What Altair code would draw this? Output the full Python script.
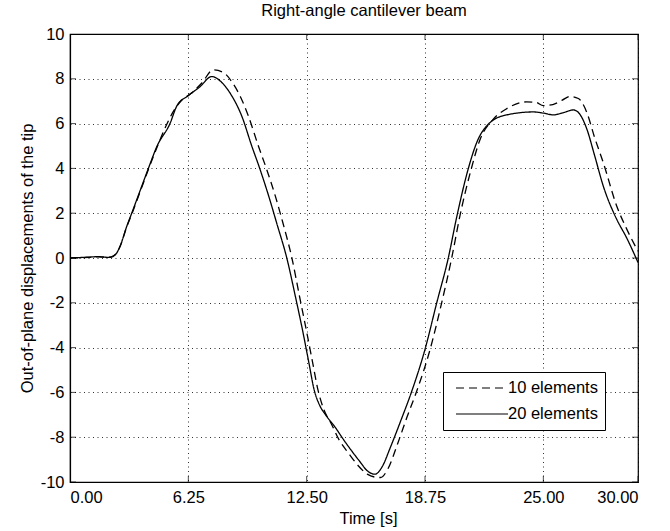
import altair as alt
import pandas as pd

# 10 elements (dashed)
t10 = [0.0, 1.0, 1.5, 2.0, 2.3, 2.64, 3.0, 3.26, 3.7, 4.14, 4.6, 5.1, 5.5, 5.85, 6.4, 6.95, 7.57, 8.1,
       8.6, 9.0, 9.42, 9.95, 10.39, 10.85, 11.25, 11.72, 12.12, 12.5, 12.8, 13.1, 13.4, 13.8, 14.2, 14.7,
       15.2, 15.7, 16.1, 16.4, 16.8, 17.3, 17.8, 18.31, 19.02, 19.63, 20.16, 20.6, 21.2, 21.64, 22.36,
       23.07, 24.12, 24.6, 25.0, 25.5, 26.0, 26.41, 26.85, 27.3, 27.7, 28.17, 28.88, 29.4, 30.0]
y10 = [0.0, 0.03, 0.05, 0.03, 0.1, 0.5, 1.4, 1.95, 2.95, 3.95, 4.95, 5.95, 6.6, 7.0, 7.35, 7.8, 8.4, 8.28,
       7.8, 7.2, 6.34, 5.0, 3.95, 2.75, 1.55, 0.0, -1.7, -3.3, -4.6, -5.9, -6.75, -7.4, -8.1, -8.7,
       -9.25, -9.65, -9.78, -9.8, -9.4, -8.3, -7.1, -5.95, -4.08, -2.0, 0.0, 1.9, 4.0, 5.25, 6.2,
       6.67, 6.97, 6.95, 6.8, 6.85, 7.05, 7.21, 7.12, 6.49, 5.4, 4.25, 2.31, 1.3, 0.3]

# 20 elements (solid)
t20 = [0.0, 1.0, 1.5, 2.0, 2.11, 2.4, 2.64, 3.0, 3.26, 3.7, 4.14, 4.6, 5.28, 5.65, 6.25, 6.87, 7.48,
       8.0, 8.5, 9.07, 9.6, 10.04, 10.5, 10.92, 11.45, 11.9, 12.3, 12.6, 12.9, 13.2, 13.5, 14.0,
       14.44, 15.0, 15.32, 15.7, 16.11, 16.5, 16.9, 17.5, 18.05, 18.75, 19.37, 19.98, 20.43, 21.04,
       21.48, 22.19, 23.07, 24.47, 25.0, 25.53, 26.1, 26.59, 26.9, 27.3, 27.7, 28.17, 28.88, 29.4, 30.0]
y20 = [0.0, 0.04, 0.06, 0.03, 0.03, 0.15, 0.52, 1.42, 2.0, 3.0, 4.0, 5.0, 6.0, 6.8, 7.25, 7.65, 8.1,
       7.85, 7.3, 6.34, 5.0, 3.95, 2.75, 1.55, 0.0, -1.7, -3.3, -4.6, -5.9, -6.6, -7.0, -7.55,
       -8.1, -8.75, -9.1, -9.5, -9.65, -9.3, -8.5, -7.2, -5.95, -4.08, -2.0, 0.0, 1.85, 4.0,
       5.15, 6.05, 6.39, 6.52, 6.47, 6.39, 6.5, 6.61, 6.45, 5.75, 4.6, 3.2, 1.72, 0.9, -0.2]

series_names = ["10 elements", "20 elements"]
x_ticks = [0, 6.25, 12.5, 18.75, 25, 30]
y_ticks = [-10, -8, -6, -4, -2, 0, 2, 4, 6, 8, 10]

df = pd.concat([
    pd.DataFrame({"t": t10, "y": y10, "series": series_names[0]}),
    pd.DataFrame({"t": t20, "y": y20, "series": series_names[1]}),
])
xt = pd.DataFrame({"t": x_ticks})
yt = pd.DataFrame({"y": y_ticks})

FONT = "Liberation Sans"
FS = 16.5
W, H = 568, 448

xscale = alt.Scale(domain=[0, 30], nice=False)
yscale = alt.Scale(domain=[-10, 10], nice=False)
xaxis = alt.Axis(values=x_ticks, format=".2f", title="Time [s]", ticks=False,
                 labelPadding=7, titlePadding=5, titleX=W / 2 + 14)
yaxis = alt.Axis(values=y_ticks, labelExpr="'' + datum.value",
                 title="Out-of-plane displacements of the tip",
                 ticks=False, labelPadding=6, titlePadding=5)

lines = alt.Chart(df).mark_line(strokeWidth=1.3, color="black", interpolate="monotone").encode(
    x=alt.X("t:Q", scale=xscale, axis=xaxis),
    y=alt.Y("y:Q", scale=yscale, axis=yaxis),
    strokeDash=alt.StrokeDash("series:N",
                              scale=alt.Scale(domain=series_names, range=[[8, 5], [1, 0]]),
                              legend=alt.Legend(title=None, orient="none", legendX=373, legendY=338,
                                                symbolType="M-3.25,0H3.25", symbolSize=256,
                                                symbolOffset=23, symbolFillColor="transparent",
                                                symbolStrokeWidth=1.2, symbolStrokeColor="black",
                                                labelFontSize=FS, labelFont=FONT, labelColor="black",
                                                labelOffset=17, padding=7, rowPadding=8,
                                                strokeColor="black", fillColor="white")),
)

tick_len = 12
xt_bottom = alt.Chart(xt).mark_tick(orient="vertical", size=tick_len, thickness=1, color="black", clip=True).encode(
    x=alt.X("t:Q", scale=xscale, axis=xaxis), y=alt.value(H))
xt_top = alt.Chart(xt).mark_tick(orient="vertical", size=tick_len, thickness=1, color="black", clip=True).encode(
    x=alt.X("t:Q", scale=xscale, axis=xaxis), y=alt.value(0))
yt_left = alt.Chart(yt).mark_tick(orient="horizontal", size=tick_len, thickness=1, color="black", clip=True).encode(
    y=alt.Y("y:Q", scale=yscale, axis=yaxis), x=alt.value(0))
yt_right = alt.Chart(yt).mark_tick(orient="horizontal", size=tick_len, thickness=1, color="black", clip=True).encode(
    y=alt.Y("y:Q", scale=yscale, axis=yaxis), x=alt.value(W))

chart = alt.layer(lines, xt_bottom, xt_top, yt_left, yt_right).properties(
    width=W, height=H,
    background="white",
    title=alt.TitleParams("Right-angle cantilever beam", fontSize=FS, font=FONT, fontWeight="normal",
                          color="black", offset=13, baseline="alphabetic", dx=10, dy=19),
    autosize=alt.AutoSizeParams(type="none"),
    padding={"left": 70, "top": 34, "right": 32, "bottom": 49},
).configure_view(stroke="black", strokeWidth=1.2).configure_axis(
    labelFont=FONT, labelFontSize=FS, labelColor="black",
    titleFont=FONT, titleFontSize=FS, titleFontWeight="normal", titleColor="black",
    domainColor="black", domainWidth=1.2,
    grid=True, gridColor="black", gridDash=[1, 3.5], gridOpacity=0.8, gridWidth=1,
)

chart.save("out.html", embed_options={"renderer": "svg", "actions": False})
